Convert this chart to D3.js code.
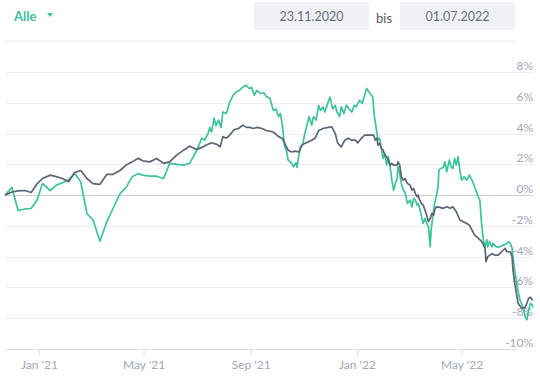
<!DOCTYPE html>
<html>
<head>
<meta charset="utf-8">
<script src="https://cdn.jsdelivr.net/npm/d3@7"></script>
<style>
  body { margin: 0; background: #fff; }
  svg { font-family: Lato, "Open Sans", sans-serif; }
</style>
</head>
<body>
<svg id="chart" width="540" height="377"></svg>
<script>
// weekly-ish points shared by both lines
const sharedDates = ['2020-11-23','2020-12-01','2020-12-08','2020-12-16','2020-12-23','2020-12-30','2021-01-05','2021-01-14',
  '2021-01-21','2021-01-28','2021-02-04','2021-02-11','2021-02-18','2021-02-25','2021-03-04','2021-03-12','2021-03-20',
  '2021-03-27','2021-04-04','2021-04-11','2021-04-18','2021-04-25','2021-04-30','2021-05-08','2021-05-16','2021-05-24',
  '2021-05-31','2021-06-08','2021-06-16','2021-06-23','2021-07-01'];
const sharedGreen = [0.0,0.5,-1.0,-0.9,-0.87,-0.3,0.75,0.3,0.65,0.8,1.0,1.4,0.85,-1.2,-1.6,-3.0,-1.7,-0.87,0.1,0.5,1.2,1.4,
  1.3,1.23,1.23,1.08,2.06,2.0,1.95,2.06,2.9];
const sharedDark = [0.0,0.2,0.28,0.3,0.17,0.75,1.08,1.3,1.2,1.08,0.87,1.47,1.6,1.08,0.75,0.7,1.35,1.35,1.6,1.95,2.16,2.4,
  2.23,2.16,2.38,2.06,2.16,2.6,2.92,3.18,2.97];

const greenDates = ['2021-07-07','2021-07-10','2021-07-14','2021-07-16','2021-07-18','2021-07-21','2021-07-23','2021-07-26',
  '2021-07-29','2021-07-31','2021-08-04','2021-08-06','2021-08-08','2021-08-12','2021-08-15','2021-08-19','2021-08-23',
  '2021-08-27','2021-08-30','2021-09-02','2021-09-05','2021-09-08','2021-09-12','2021-09-16','2021-09-19','2021-09-23',
  '2021-09-27','2021-09-30','2021-10-03','2021-10-05','2021-10-07','2021-10-08','2021-10-10','2021-10-12','2021-10-14',
  '2021-10-18','2021-10-20','2021-10-23','2021-10-24','2021-10-28','2021-10-31','2021-11-02','2021-11-04','2021-11-07',
  '2021-11-10','2021-11-12','2021-11-15','2021-11-18','2021-11-20','2021-11-23','2021-11-25','2021-11-29','2021-12-01',
  '2021-12-04','2021-12-07','2021-12-09','2021-12-12','2021-12-14','2021-12-17','2021-12-20','2021-12-23','2021-12-26',
  '2021-12-29','2021-12-31','2022-01-04','2022-01-07','2022-01-12','2022-01-16','2022-01-19','2022-01-21','2022-01-24',
  '2022-01-25','2022-01-27','2022-01-29','2022-01-31','2022-02-02','2022-02-04','2022-02-06','2022-02-08','2022-02-10',
  '2022-02-12','2022-02-14','2022-02-16','2022-02-17','2022-02-19','2022-02-21','2022-02-23','2022-02-25','2022-02-27',
  '2022-02-28','2022-03-03','2022-03-05','2022-03-07','2022-03-09','2022-03-11','2022-03-12','2022-03-14','2022-03-16',
  '2022-03-18','2022-03-20','2022-03-22','2022-03-24','2022-03-26','2022-03-27','2022-03-29','2022-03-31','2022-04-02',
  '2022-04-04','2022-04-05','2022-04-07','2022-04-10','2022-04-12','2022-04-14','2022-04-17','2022-04-19','2022-04-21',
  '2022-04-23','2022-04-25','2022-04-27','2022-04-29','2022-05-01','2022-05-04','2022-05-07','2022-05-10','2022-05-13',
  '2022-05-16','2022-05-20','2022-05-22','2022-05-24','2022-05-26','2022-05-28','2022-05-30','2022-05-31','2022-06-02',
  '2022-06-05','2022-06-06','2022-06-10','2022-06-14','2022-06-18','2022-06-22','2022-06-24','2022-06-26','2022-06-28',
  '2022-06-29','2022-07-01','2022-07-03','2022-07-05','2022-07-07','2022-07-11','2022-07-13','2022-07-15','2022-07-17',
  '2022-07-19','2022-07-21','2022-07-22'];
const greenValues = [3.7,3.57,4.0,4.4,4.1,5.0,4.5,4.87,4.4,5.4,5.3,5.7,6.06,6.5,6.7,6.8,7.03,7.14,6.93,7.0,6.5,6.8,6.6,6.65,
  6.4,6.3,5.5,5.6,5.1,5.3,4.66,4.2,3.14,2.9,2.27,2.06,1.84,2.1,1.8,3.14,3.36,4.0,4.4,5.1,4.55,5.1,4.87,5.84,5.5,5.73,5.4,
  6.06,6.38,5.6,5.84,5.4,5.1,5.73,5.3,5.84,5.6,5.4,5.84,5.73,6.17,5.95,6.93,6.6,6.38,5.1,4.0,3.57,3.7,3.03,2.38,2.7,1.95,
  2.49,1.84,0.97,0.32,0.76,1.08,1.84,1.4,0.76,0.32,0.21,-0.32,-0.54,-0.32,-0.76,-0.21,-0.32,-0.65,-0.54,-0.86,-1.4,-1.84,
  -1.51,-1.84,-2.06,-3.36,-2.27,-1.4,-0.54,-0.1,0.54,1.62,1.73,1.8,2.16,1.51,2.27,1.84,1.73,2.38,1.95,2.49,1.62,0.97,1.19,
  0.97,1.3,0.97,0.54,-0.1,-0.32,-1.84,-2.9,-3.36,-2.9,-3.36,-3.0,-3.36,-3.14,-3.36,-3.36,-3.25,-3.14,-3.03,-3.14,-3.46,
  -4.0,-4.87,-5.6,-6.3,-6.8,-7.36,-7.9,-8.1,-7.47,-7.03,-7.14,-7.3];

const darkDates = ['2021-07-07','2021-07-12','2021-07-18','2021-07-24','2021-07-28','2021-07-31','2021-08-04','2021-08-08',
  '2021-08-13','2021-08-18','2021-08-23','2021-08-27','2021-08-31','2021-09-04','2021-09-08','2021-09-14','2021-09-19',
  '2021-09-27','2021-10-03','2021-10-07','2021-10-10','2021-10-14','2021-10-18','2021-10-22','2021-10-26','2021-10-30',
  '2021-11-02','2021-11-06','2021-11-10','2021-11-14','2021-11-18','2021-11-23','2021-11-29','2021-12-03','2021-12-07',
  '2021-12-10','2021-12-14','2021-12-18','2021-12-22','2021-12-26','2021-12-30','2022-01-02','2022-01-06','2022-01-10',
  '2022-01-16','2022-01-20','2022-01-22','2022-01-24','2022-01-25','2022-01-27','2022-01-29','2022-01-31','2022-02-02',
  '2022-02-04','2022-02-06','2022-02-08','2022-02-10','2022-02-12','2022-02-16','2022-02-17','2022-02-19','2022-02-21',
  '2022-02-23','2022-02-25','2022-02-27','2022-02-28','2022-03-03','2022-03-05','2022-03-07','2022-03-09','2022-03-11',
  '2022-03-12','2022-03-14','2022-03-16','2022-03-18','2022-03-20','2022-03-22','2022-03-24','2022-03-26','2022-03-28',
  '2022-03-30','2022-03-31','2022-04-02','2022-04-06','2022-04-10','2022-04-14','2022-04-18','2022-04-21','2022-04-25',
  '2022-04-29','2022-05-03','2022-05-07','2022-05-10','2022-05-13','2022-05-16','2022-05-20','2022-05-24','2022-05-28',
  '2022-05-29','2022-05-31','2022-06-05','2022-06-08','2022-06-12','2022-06-16','2022-06-20','2022-06-22','2022-06-26',
  '2022-06-28','2022-06-29','2022-07-01','2022-07-03','2022-07-05','2022-07-09','2022-07-13','2022-07-15','2022-07-17',
  '2022-07-19','2022-07-21','2022-07-22'];
const darkValues = [3.1,3.25,3.4,3.3,3.14,3.8,3.7,3.9,4.26,4.33,4.55,4.4,4.4,4.33,4.4,4.33,4.2,4.1,3.8,3.7,3.36,2.92,2.8,
  2.86,2.8,3.25,3.36,3.46,3.57,3.7,4.2,4.33,4.4,4.44,4.0,3.36,3.14,3.57,3.7,3.57,3.57,3.4,3.7,3.9,3.9,3.9,3.57,3.7,3.25,
  3.36,3.03,2.92,2.6,2.49,2.27,1.95,2.06,1.95,1.95,2.16,1.95,1.19,0.97,1.08,0.86,0.76,0.65,0.32,0.43,0.1,-0.1,0,-0.32,
  -0.54,-0.65,-0.97,-1.3,-1.73,-1.51,-1.19,-1.3,-0.97,-0.76,-0.8,-0.86,-0.76,-0.86,-0.76,-1.08,-1.62,-1.73,-1.84,-1.95,
  -2.27,-2.6,-2.8,-3.0,-3.46,-4.33,-4.0,-3.8,-3.9,-3.9,-3.68,-3.46,-3.68,-3.68,-4.0,-4.87,-5.7,-6.4,-7.03,-7.36,-7.3,
  -7.03,-6.7,-6.64,-6.8,-6.8];

const yTicks = [-10,-8,-6,-4,-2,0,2,4,6,8];
const xTickDates = ['2021-01-01','2021-05-01','2021-09-01','2022-01-01','2022-05-01'];
const xTickLabels = ["Jan '21","May '21","Sep '21","Jan '22","May '22"];
const startDate = '2020-11-23', endDate = '2022-07-22';

const parse = d3.timeParse('%Y-%m-%d');
const svg = d3.select('#chart');

const green = sharedDates.concat(greenDates).map((d, i) => ({ date: parse(d), v: sharedGreen.concat(greenValues)[i] }));
const dark = sharedDates.concat(darkDates).map((d, i) => ({ date: parse(d), v: sharedDark.concat(darkValues)[i] }));

const x = d3.scaleTime().domain([parse(startDate), parse(endDate)]).range([5, 533]);
const y = d3.scaleLinear().domain([-10, 8]).range([349, 72]);

// header
svg.append('text').attr('x', 14).attr('y', 21).attr('fill', '#3dbf9b')
  .style('font-size', '13px').style('font-weight', 700).text('Alle');
svg.append('path').attr('d', 'M47,13 L53,13 L50,17 Z').attr('fill', '#3dbf9b');
[[254, '23.11.2020'], [400, '01.07.2022']].forEach(([bx, t]) => {
  svg.append('rect').attr('x', bx).attr('y', 2).attr('width', 115).attr('height', 28).attr('fill', '#eff1f6');
  svg.append('text').attr('x', bx + 57.5).attr('y', 21).attr('text-anchor', 'middle')
    .attr('fill', '#6b6e78').style('font-size', '12.5px').text(t);
});
svg.append('text').attr('x', 384).attr('y', 23).attr('text-anchor', 'middle')
  .attr('fill', '#55585f').style('font-size', '13px').text('bis');
svg.append('line').attr('x1', 6).attr('x2', 516).attr('y1', 41).attr('y2', 41)
  .attr('stroke', '#e8eaee').attr('stroke-width', 1);

// grid + y labels
const grid = svg.append('g');
grid.selectAll('line').data(yTicks.filter(v => v > -10)).enter().append('line')
  .attr('x1', 6).attr('x2', 533)
  .attr('y1', d => Math.round(y(d)) + 0.5).attr('y2', d => Math.round(y(d)) + 0.5)
  .attr('stroke', d => d === 0 ? '#c9ccd3' : '#eceef1').attr('stroke-width', 1);
grid.selectAll('text').data(yTicks).enter().append('text')
  .attr('x', 533).attr('y', d => y(d) - 2).attr('text-anchor', 'end')
  .attr('fill', '#a3a6b6').style('font-size', '12px').text(d => d + '%');

// x axis
const xAxis = d3.axisBottom(x).tickValues(xTickDates.map(parse))
  .tickFormat((d, i) => xTickLabels[i]).tickSize(6).tickPadding(5);
const gx = svg.append('g').attr('transform', 'translate(0,349.5)').call(xAxis);
gx.select('.domain').remove();
gx.selectAll('line').attr('stroke', '#d9dcea');
gx.selectAll('text').attr('fill', '#a3a6b6').style('font-size', '12px')
  .style('font-family', 'Lato, "Open Sans", sans-serif');
svg.append('line').attr('x1', 6).attr('x2', 516).attr('y1', 349.5).attr('y2', 349.5)
  .attr('stroke', '#d9dcea').attr('stroke-width', 1);

// lines
const line = d3.line().x(d => x(d.date)).y(d => y(d.v));
svg.append('path').datum(green).attr('d', line).attr('fill', 'none')
  .attr('stroke', '#3dc29c').attr('stroke-width', 1.7).attr('stroke-linejoin', 'round');
svg.append('path').datum(dark).attr('d', line).attr('fill', 'none')
  .attr('stroke', '#5c6374').attr('stroke-width', 1.7).attr('stroke-linejoin', 'round');
</script>
</body>
</html>
